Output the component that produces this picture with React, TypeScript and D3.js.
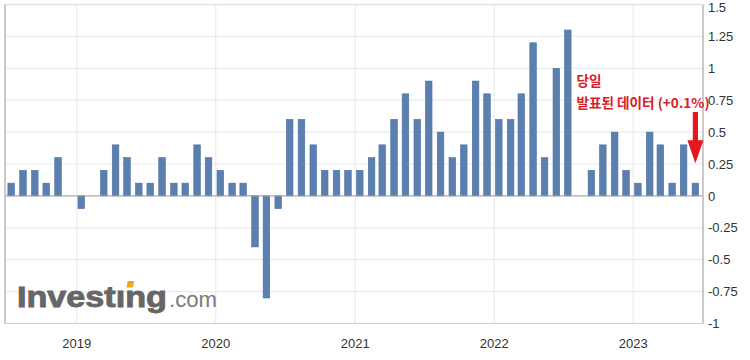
import React from "react";
import * as d3 from "d3";

const months: string[] = [
  "2018-07","2018-08","2018-09","2018-10","2018-11","2018-12",
  "2019-01","2019-02","2019-03","2019-04","2019-05","2019-06","2019-07","2019-08","2019-09","2019-10","2019-11","2019-12",
  "2020-01","2020-02","2020-03","2020-04","2020-05","2020-06","2020-07","2020-08","2020-09","2020-10","2020-11","2020-12",
  "2021-01","2021-02","2021-03","2021-04","2021-05","2021-06","2021-07","2021-08","2021-09","2021-10","2021-11","2021-12",
  "2022-01","2022-02","2022-03","2022-04","2022-05","2022-06","2022-07","2022-08","2022-09","2022-10","2022-11","2022-12",
  "2023-01","2023-02","2023-03","2023-04","2023-05","2023-06",
];
const values: number[] = [
  0.1, 0.2, 0.2, 0.1, 0.3, 0.0,
  -0.1, 0.0, 0.2, 0.4, 0.3, 0.1, 0.1, 0.3, 0.1, 0.1, 0.4, 0.3,
  0.2, 0.1, 0.1, -0.4, -0.8, -0.1, 0.6, 0.6, 0.4, 0.2, 0.2, 0.2,
  0.2, 0.3, 0.4, 0.6, 0.8, 0.6, 0.9, 0.5, 0.3, 0.4, 0.9, 0.8,
  0.6, 0.6, 0.8, 1.2, 0.3, 1.0, 1.3, 0.0, 0.2, 0.4, 0.5, 0.2,
  0.1, 0.5, 0.4, 0.1, 0.4, 0.1,
];
const yTicks: number[] = [1.5, 1.25, 1, 0.75, 0.5, 0.25, 0, -0.25, -0.5, -0.75, -1];
const yTickLabels: string[] = ["1.5", "1.25", "1", "0.75", "0.5", "0.25", "0", "-0.25", "-0.5", "-0.75", "-1"];
const yearTicks: string[] = ["2019", "2020", "2021", "2022", "2023"];
const noteLine1 = "당일";
const noteLine2 = "발표된 데이터 (+0.1%)";

const W = 750;
const H = 360;
const left = 5;
const right = 703;
const top = 4.5;
const bottom = 323.5;

export default function App() {
  const parse = d3.timeParse("%Y-%m-%d");
  const x = d3
    .scaleTime()
    .domain([parse("2019-01-01")!, parse("2023-01-01")!])
    .range([76.7, 633.3]);
  const y = d3.scaleLinear().domain([-1, 1.5]).range([bottom, top]);
  const barW = 6.6;
  const dates = months.map((m) => parse(m + "-13")!);
  const yearDates = yearTicks.map((yy) => parse(yy + "-01-01")!);

  const lastX = x(dates[dates.length - 1]);
  const tipY = y(values[values.length - 1]) - 20;
  const arrowPath = d3.path();
  arrowPath.moveTo(lastX - 2.6, 112);
  arrowPath.lineTo(lastX + 2.6, 112);
  arrowPath.lineTo(lastX + 2.6, tipY - 23);
  arrowPath.lineTo(lastX + 8, tipY - 23);
  arrowPath.lineTo(lastX, tipY);
  arrowPath.lineTo(lastX - 8, tipY - 23);
  arrowPath.lineTo(lastX - 2.6, tipY - 23);
  arrowPath.closePath();

  return (
    <svg
      width={W}
      height={H}
      style={{ position: "absolute", left: 0, top: 0, background: "#fff" }}
      fontFamily="'Liberation Sans', Arial, sans-serif"
    >
      <rect x={0} y={0} width={W} height={H} fill="#ffffff" />
      {/* horizontal grid */}
      {yTicks.map((t) => (
        <line key={"h" + t} x1={left} x2={right} y1={y(t)} y2={y(t)} stroke="#ebebeb" strokeWidth={1.2} />
      ))}
      {/* vertical grid */}
      {yearDates.map((d, i) => (
        <line key={"v" + i} x1={x(d)} x2={x(d)} y1={top} y2={bottom} stroke="#ebebeb" strokeWidth={1.2} />
      ))}
      {/* top border */}
      <line x1={left} x2={right} y1={top} y2={top} stroke="#e2e2e2" strokeWidth={1.5} />

      {/* watermark */}
      <g>
        <text
          x={17}
          y={306.5}
          fontSize={30}
          fontWeight="bold"
          fill="#666666"
          stroke="#666666"
          strokeWidth={0.9}
          textLength={150}
          lengthAdjust="spacingAndGlyphs"
        >
          Investıng
        </text>
        <rect x={127.5} y={281} width={6.5} height={6.5} fill="#f5a81c" transform="skewX(-12) translate(60,0)" />
        <text x={169} y={306.5} fontSize={22} fill="#7a7a7a" textLength={48} lengthAdjust="spacingAndGlyphs">
          .com
        </text>
      </g>

      {/* bars */}
      {values.map((v, i) => {
        const bx = x(dates[i]) - barW / 2;
        const y0 = y(0);
        const y1 = y(v);
        return (
          <rect
            key={"b" + i}
            x={bx}
            y={Math.min(y0, y1)}
            width={barW}
            height={Math.abs(y1 - y0)}
            fill="#5b7fae"
            stroke="#4d72a3"
            strokeWidth={0.6}
          />
        );
      })}
      {/* zero line */}
      <line x1={left} x2={right} y1={y(0)} y2={y(0)} stroke="#a0a0a0" strokeWidth={1} />
      {/* axes */}
      <line x1={left} x2={left} y1={top} y2={bottom} stroke="#a8a8a8" strokeWidth={1.2} />
      <line x1={right} x2={right} y1={top} y2={bottom} stroke="#a8a8a8" strokeWidth={1.2} />
      <line x1={left} x2={right} y1={bottom} y2={bottom} stroke="#c3cede" strokeWidth={1.2} />

      {/* y labels */}
      {yTicks.map((t, i) => (
        <text key={"yl" + t} x={708} y={Math.max(y(t) + 4.6, 11.8)} fontSize={13} fill="#333333">
          {yTickLabels[i]}
        </text>
      ))}
      {/* x labels */}
      {yearDates.map((d, i) => (
        <text key={"xl" + i} x={x(d)} y={348} fontSize={13} fill="#333333" textAnchor="middle">
          {yearTicks[i]}
        </text>
      ))}

      {/* annotation */}
      <text x={576.5} y={85.5} fontSize={13.6} fontWeight="bold" fill="#d8202b" fontFamily="'Noto Sans CJK KR', sans-serif">
        {noteLine1}
      </text>
      <text x={576.5} y={107.5} fontSize={13.6} fontWeight="bold" fill="#d8202b" fontFamily="'Noto Sans CJK KR', sans-serif">
        {noteLine2}
      </text>
      <path d={arrowPath.toString()} fill="#e5161d" />
    </svg>
  );
}
